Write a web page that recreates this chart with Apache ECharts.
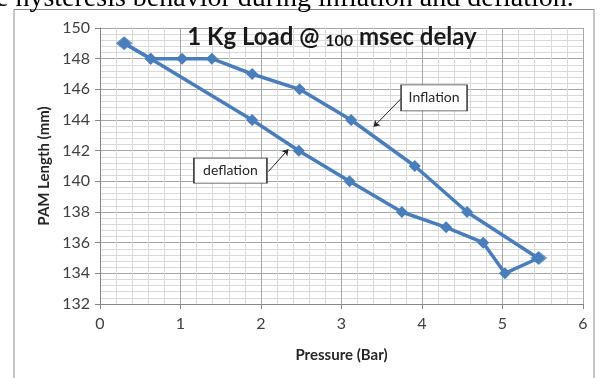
<!DOCTYPE html>
<html>
<head>
<meta charset="utf-8">
<script src="https://cdn.jsdelivr.net/npm/echarts@6/dist/echarts.min.js"></script>
<style>
  html, body { margin: 0; padding: 0; background: #fff; }
  #chart { width: 601px; height: 378px; }
</style>
</head>
<body>
<div id="chart"></div>
<script>
// pressure (bar) vs PAM length (mm)
const inflationX = [0.3, 0.63, 1.02, 1.39, 1.89, 2.48, 3.12, 3.91, 4.56, 5.44];
const inflationY = [149, 148, 148, 148, 147, 146, 144, 141, 138, 135];
const deflationX = [5.45, 5.03, 4.76, 4.30, 3.75, 3.10, 2.47, 1.89, 0.63, 0.3];
const deflationY = [135, 134, 136, 137, 138, 140, 142, 144, 148, 149];

const titleMain = '1 Kg Load @ ';
const titleSmall = '100';
const titleRest = ' msec delay';
const captionText = 'e hysteresis behavior during inflation and deflation.';

const lineColor = '#4a7ebb';
const textColor = '#404040';

const chart = echarts.init(document.getElementById('chart'));

const toPairs = (xs, ys) => xs.map((x, i) => [x, ys[i]]);

const baseSeries = {
  type: 'line',
  symbol: 'diamond',
  symbolSize: 12,
  lineStyle: { color: lineColor, width: 3.5 },
  itemStyle: { color: lineColor },
  z: 3
};

const option = {
  animation: false,
  backgroundColor: '#fff',
  title: {
    text: '{m|' + titleMain + '}{s|' + titleSmall + '}{m|' + titleRest + '}',
    left: 327,
    top: 20,
    textAlign: 'center',
    textStyle: {
      rich: {
        m: { fontFamily: 'Lato', fontSize: 24, fontWeight: 'bold', color: '#1a1a1a' },
        s: { fontFamily: 'Lato', fontSize: 16, color: '#1a1a1a', verticalAlign: 'bottom' }
      }
    }
  },
  grid: { left: 100, right: 18, top: 28, bottom: 74 },
  xAxis: {
    type: 'value',
    min: 0,
    max: 6,
    interval: 1,
    name: 'Pressure (Bar)',
    nameLocation: 'middle',
    nameGap: 44,
    nameTextStyle: { fontFamily: 'Lato', fontSize: 15, fontWeight: 'bold', color: '#262626' },
    axisLine: { lineStyle: { color: '#868686', width: 1 } },
    axisTick: { show: true, length: 5, lineStyle: { color: '#868686' } },
    axisLabel: { fontFamily: 'Lato', fontSize: 16, color: textColor, margin: 12 },
    splitLine: { show: true, lineStyle: { color: '#a6a6a6', width: 1 } },
    minorTick: { show: false, splitNumber: 5 },
    minorSplitLine: { show: true, lineStyle: { color: '#d9d9d9', width: 1 } }
  },
  yAxis: {
    type: 'value',
    min: 132,
    max: 150,
    interval: 2,
    name: 'PAM Length (mm)',
    nameLocation: 'middle',
    nameGap: 46,
    nameTextStyle: { fontFamily: 'Lato', fontSize: 15, fontWeight: 'bold', color: '#262626' },
    axisLine: { show: true, lineStyle: { color: '#868686', width: 1 } },
    axisTick: { show: true, length: 5, lineStyle: { color: '#868686' } },
    axisLabel: { fontFamily: 'Lato', fontSize: 16, color: textColor, margin: 10 },
    splitLine: { show: true, lineStyle: { color: '#a6a6a6', width: 1 } },
    minorTick: { show: false, splitNumber: 5 },
    minorSplitLine: { show: true, lineStyle: { color: '#d9d9d9', width: 1 } }
  },
  series: [
    Object.assign({}, baseSeries, {
      name: 'Inflation',
      data: toPairs(inflationX, inflationY),
      markLine: {
        silent: true,
        symbol: ['none', 'arrow'],
        symbolSize: 6,
        label: { show: false },
        lineStyle: { color: '#222', width: 1, type: 'solid' },
        data: [[{ coord: [3.75, 145.45] }, { coord: [3.40, 143.56] }]]
      },
      markPoint: {
        silent: true,
        symbol: 'rect',
        symbolSize: [66, 26],
        itemStyle: { color: '#fff', borderColor: '#404040', borderWidth: 1 },
        label: { show: true, formatter: 'Inflation', fontFamily: 'Lato', fontSize: 14, color: '#262626' },
        data: [{ coord: [4.15, 145.44] }]
      }
    }),
    Object.assign({}, baseSeries, {
      name: 'deflation',
      data: toPairs(deflationX, deflationY),
      markLine: {
        silent: true,
        symbol: ['none', 'arrow'],
        symbolSize: 6,
        label: { show: false },
        lineStyle: { color: '#222', width: 1, type: 'solid' },
        data: [[{ coord: [2.09, 140.63] }, { coord: [2.34, 142.09] }]]
      },
      markPoint: {
        silent: true,
        symbol: 'rect',
        symbolSize: [73, 25],
        itemStyle: { color: '#fff', borderColor: '#404040', borderWidth: 1 },
        label: { show: true, formatter: 'deflation', fontFamily: 'Lato', fontSize: 14, color: '#262626' },
        data: [{ coord: [1.62, 140.7] }]
      }
    }),
    {
      // doubled end markers where the two curves meet
      type: 'scatter',
      symbol: 'diamond',
      symbolSize: [17, 14],
      itemStyle: { color: lineColor },
      data: [toPairs(inflationX, inflationY)[0], toPairs(deflationX, deflationY)[0]],
      z: 4
    }
  ],
  graphic: [
    {
      type: 'rect',
      shape: { x: 14, y: 9.5, width: 580, height: 380 },
      style: { fill: 'none', stroke: '#8c8c8c', lineWidth: 1 },
      silent: true,
      z: -1
    },
    {
      type: 'text',
      left: -4,
      top: -15,
      style: { text: captionText, font: '28px "Liberation Serif"', fill: '#000' },
      silent: true
    }
  ]
};

chart.setOption(option);
</script>
</body>
</html>
